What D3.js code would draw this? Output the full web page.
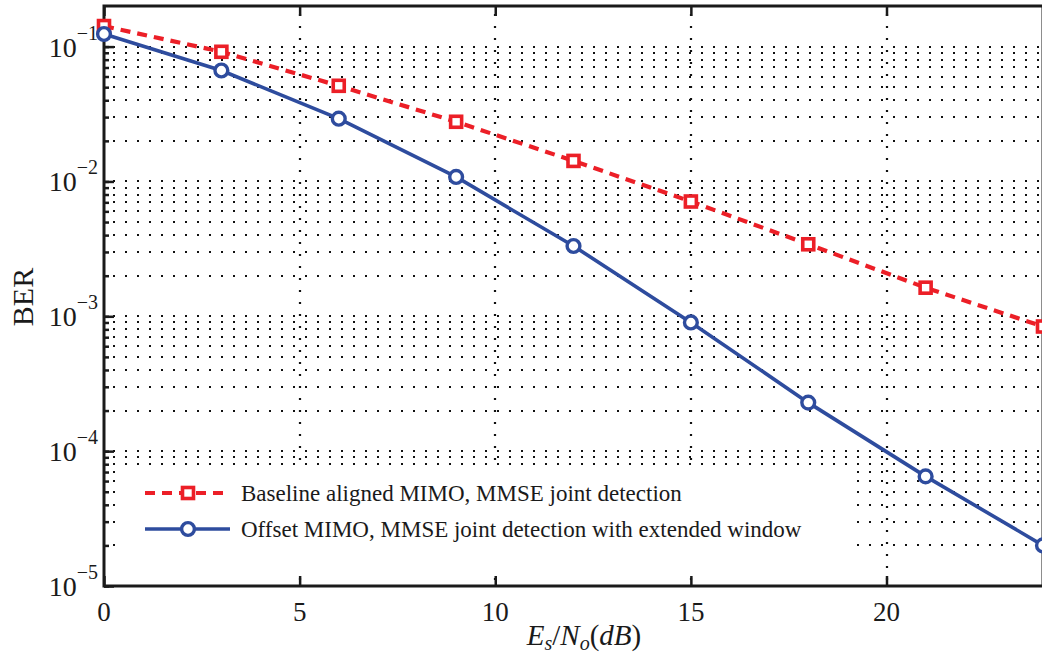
<!DOCTYPE html>
<html>
<head>
<meta charset="utf-8">
<script src="https://cdn.jsdelivr.net/npm/d3@7"></script>
<style>
  body { margin: 0; background: #fff; }
  svg { display: block; }
  svg text { font-family: "Liberation Serif", "Times New Roman", serif; }
</style>
</head>
<body>
<div id="chart"></div>
<script>
const snr = [0, 3, 6, 9, 12, 15, 18, 21, 24];
const berBaseline = [0.142, 0.0915, 0.0512, 0.0277, 0.0142, 0.0071, 0.00342, 0.00163, 0.00084];
const berOffset = [0.124, 0.0665, 0.0292, 0.0108, 0.00332, 0.0009, 0.000229, 0.000065, 0.00002];
const xTicks = [0, 5, 10, 15, 20];
const yDecades = [1e-5, 1e-4, 1e-3, 1e-2, 1e-1];
const yExponents = ["\u22125", "\u22124", "\u22123", "\u22122", "\u22121"];
const seriesNames = [
  "Baseline aligned MIMO, MMSE joint detection",
  "Offset MIMO, MMSE joint detection with extended window"
];

const W = 1042, H = 668;
const plot = { left: 104, right: 1043, top: 6, bottom: 586 };
const red = "#ec1f27", blue = "#2e4c9e";

const svg = d3.select("#chart").append("svg")
  .attr("width", W)
  .attr("height", H);

const x = d3.scaleLinear().domain([0, 24]).range([plot.left, plot.right]);
const y = d3.scaleLog().domain([1e-5, 0.2]).range([plot.bottom, plot.top]);

// all grid values: 1..9 x each decade, up to the top limit
const yMinor = [];
yDecades.forEach(d => {
  for (let k = 1; k <= 9; k++) {
    const v = k * d;
    if (v < 0.2 * 0.999) yMinor.push(v);
  }
});

// grid
const grid = svg.append("g")
  .attr("stroke", "#111")
  .attr("stroke-width", 2.2)
  .attr("stroke-dasharray", "2,10");

grid.selectAll(".hg")
  .data(yMinor.filter(v => v > 1e-5 * 1.001))
  .join("line")
  .attr("x1", plot.left + 9)
  .attr("x2", plot.right)
  .attr("y1", d => Math.round(y(d)))
  .attr("y2", d => Math.round(y(d)));

grid.selectAll(".vg")
  .data(xTicks.filter(d => d > 0))
  .join("line")
  .attr("x1", d => Math.round(x(d)))
  .attr("x2", d => Math.round(x(d)))
  .attr("y1", plot.top + 8)
  .attr("y2", plot.bottom);

// axes box with inward ticks
const axisStyle = g => {
  g.select(".domain").remove();
  g.selectAll(".tick line").attr("stroke", "#1a1a1a").attr("stroke-width", 2.5);
  g.selectAll(".tick text").remove();
};

svg.append("g")
  .attr("transform", `translate(0,${plot.bottom})`)
  .call(d3.axisBottom(x).tickValues(xTicks).tickSize(-10))
  .call(axisStyle);

svg.append("g")
  .attr("transform", `translate(0,${plot.top})`)
  .call(d3.axisTop(x).tickValues(xTicks).tickSize(-10))
  .call(axisStyle);

svg.append("g")
  .attr("transform", `translate(${plot.left},0)`)
  .call(d3.axisLeft(y).tickValues(yMinor).tickSize(-5))
  .call(axisStyle);

svg.append("g")
  .attr("transform", `translate(${plot.left},0)`)
  .call(d3.axisLeft(y).tickValues(yDecades).tickSize(-10))
  .call(axisStyle);

svg.append("rect")
  .attr("x", plot.left)
  .attr("y", plot.top)
  .attr("width", plot.right - plot.left)
  .attr("height", plot.bottom - plot.top)
  .attr("fill", "none")
  .attr("stroke", "#1a1a1a")
  .attr("stroke-width", 3);

// tick labels
svg.selectAll(".xl")
  .data(xTicks)
  .join("text")
  .attr("x", d => x(d))
  .attr("y", 621)
  .attr("text-anchor", "middle")
  .attr("font-size", 27)
  .attr("fill", "#1a1a1a")
  .text(d => d);

const yl = svg.selectAll(".yl")
  .data(yDecades)
  .join("text")
  .attr("x", 98)
  .attr("y", d => y(d) + 10)
  .attr("text-anchor", "end")
  .attr("font-size", 28)
  .attr("fill", "#1a1a1a");
yl.append("tspan").text("10");
yl.append("tspan")
  .attr("dy", -17)
  .attr("font-size", 20)
  .text((d, i) => yExponents[i]);

// axis titles
svg.append("text")
  .attr("transform", "translate(33,297) rotate(-90)")
  .attr("text-anchor", "middle")
  .attr("font-size", 30)
  .attr("fill", "#1a1a1a")
  .text("BER");

const xt = svg.append("text")
  .attr("x", 584)
  .attr("y", 645)
  .attr("text-anchor", "middle")
  .attr("font-size", 29)
  .attr("fill", "#1a1a1a");
xt.append("tspan").attr("font-style", "italic").text("E");
xt.append("tspan").attr("font-style", "italic").attr("font-size", 20).attr("dy", 5).text("s");
xt.append("tspan").attr("dy", -5).text("/");
xt.append("tspan").attr("font-style", "italic").text("N");
xt.append("tspan").attr("font-style", "italic").attr("font-size", 20).attr("dy", 5).text("o");
xt.append("tspan").attr("dy", -5).text("(");
xt.append("tspan").attr("font-style", "italic").text("dB");
xt.append("tspan").text(")");

// legend background
svg.append("rect")
  .attr("x", 117)
  .attr("y", 468)
  .attr("width", 740)
  .attr("height", 100)
  .attr("fill", "#fff");

// series
const line = d3.line().x(d => x(d[0])).y(d => y(d[1]));
const baseData = snr.map((s, i) => [s, berBaseline[i]]);
const offData = snr.map((s, i) => [s, berOffset[i]]);

svg.append("path")
  .datum(baseData)
  .attr("d", line)
  .attr("fill", "none")
  .attr("stroke", red)
  .attr("stroke-width", 4.2)
  .attr("stroke-dasharray", "10,7");

svg.append("path")
  .datum(offData)
  .attr("d", line)
  .attr("fill", "none")
  .attr("stroke", blue)
  .attr("stroke-width", 3.6);

svg.selectAll(".sq")
  .data(baseData)
  .join("rect")
  .attr("x", d => x(d[0]) - 5.5)
  .attr("y", d => y(d[1]) - 5.5)
  .attr("width", 11)
  .attr("height", 11)
  .attr("fill", "#fff")
  .attr("stroke", red)
  .attr("stroke-width", 3.6);

svg.selectAll(".ci")
  .data(offData)
  .join("circle")
  .attr("cx", d => x(d[0]))
  .attr("cy", d => y(d[1]))
  .attr("r", 6.4)
  .attr("fill", "#fff")
  .attr("stroke", blue)
  .attr("stroke-width", 3.4);

// legend
const legend = svg.append("g");
const rows = [493, 529];
seriesNames.forEach((name, i) => {
  const g = legend.append("g").attr("transform", `translate(0,${rows[i]})`);
  g.append("line")
    .attr("x1", 145).attr("x2", 230)
    .attr("stroke", i === 0 ? red : blue)
    .attr("stroke-width", i === 0 ? 4.2 : 3.6)
    .attr("stroke-dasharray", i === 0 ? "10,7" : null);
  if (i === 0) {
    g.append("rect")
      .attr("x", 182.5).attr("y", -5.5)
      .attr("width", 11).attr("height", 11)
      .attr("fill", "#fff").attr("stroke", red).attr("stroke-width", 3.6);
  } else {
    g.append("circle")
      .attr("cx", 188).attr("r", 6.4)
      .attr("fill", "#fff").attr("stroke", blue).attr("stroke-width", 3.4);
  }
  g.append("text")
    .attr("x", 241)
    .attr("y", 8)
    .attr("font-size", 23)
    .attr("fill", "#1a1a1a")
    .text(name);
});
</script>
</body>
</html>
